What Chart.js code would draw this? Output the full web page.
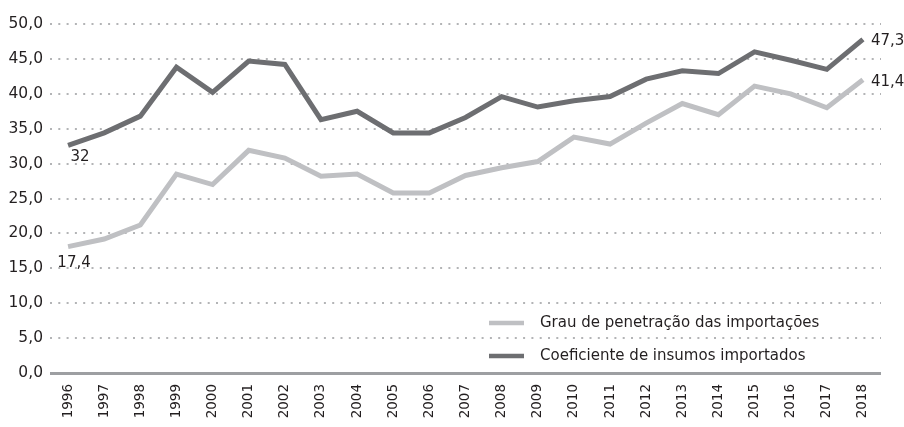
<!DOCTYPE html>
<html>
<head>
<meta charset="utf-8">
<script src="https://cdn.jsdelivr.net/npm/chart.js@4/dist/chart.umd.min.js"></script>
<style>
  html, body { margin: 0; padding: 0; background: #fff; }
</style>
</head>
<body>
<canvas id="grafico" width="904" height="427"></canvas>
<script>
// dados
const anos = ['1996', '1997', '1998', '1999', '2000', '2001', '2002', '2003', '2004', '2005', '2006',
  '2007', '2008', '2009', '2010', '2011', '2012', '2013', '2014', '2015', '2016', '2017', '2018'];
const grauPenetracao = [18.1, 19.2, 21.2, 28.5, 27.0, 31.9, 30.8, 28.2, 28.5, 25.8, 25.8,
  28.3, 29.4, 30.3, 33.8, 32.8, 35.8, 38.6, 37.0, 41.1, 40.0, 38.0, 42.0];
const coefInsumos = [32.6, 34.4, 36.8, 43.8, 40.2, 44.7, 44.2, 36.3, 37.5, 34.4, 34.4,
  36.6, 39.6, 38.1, 39.0, 39.6, 42.1, 43.3, 42.9, 46.0, 44.8, 43.5, 47.8];
const ticksY = [0, 5, 10, 15, 20, 25, 30, 35, 40, 45, 50];
// rótulos de ponto: [índice da série, índice do ano, texto]
const rotulos = [[0, 0, '17,4'], [1, 0, '32'], [0, 22, '41,4'], [1, 22, '47,3']];

const FONTE = "'DejaVu Sans', sans-serif";
const COR_TEXTO = '#231f20';

const rotulosPlugin = {
  id: 'rotulos',
  afterDatasetsDraw(chart) {
    const ctx = chart.ctx;
    ctx.save();
    ctx.font = '15px ' + FONTE;
    ctx.fillStyle = COR_TEXTO;
    ctx.textBaseline = 'middle';
    rotulos.forEach(([s, i, txt]) => {
      const p = chart.getDatasetMeta(s).data[i];
      if (i === 0) {
        ctx.textAlign = 'center';
        const dx = s === 0 ? 6 : 12;
        const dy = s === 0 ? 16 : 12;
        ctx.fillText(txt, p.x + dx, p.y + dy);
      } else {
        ctx.textAlign = 'left';
        ctx.fillText(txt, p.x + 8, p.y + 2);
      }
    });
    ctx.restore();
  }
};

const legendaPlugin = {
  id: 'legenda',
  afterDraw(chart) {
    const ctx = chart.ctx;
    const a = chart.chartArea;
    ctx.save();
    ctx.font = '15px ' + FONTE;
    ctx.fillStyle = COR_TEXTO;
    ctx.textBaseline = 'middle';
    ctx.textAlign = 'left';
    chart.data.datasets.forEach((ds, k) => {
      const y = a.top + 299 + k * 33;
      const x0 = a.left + 439;
      ctx.strokeStyle = ds.borderColor;
      ctx.lineWidth = 4.5;
      ctx.beginPath();
      ctx.moveTo(x0, y);
      ctx.lineTo(x0 + 35, y);
      ctx.stroke();
      ctx.fillText(ds.label, x0 + 51, y);
    });
    ctx.restore();
  }
};

new Chart(document.getElementById('grafico'), {
  type: 'line',
  data: {
    labels: anos,
    datasets: [
      {
        label: 'Grau de penetração das importações',
        data: grauPenetracao,
        borderColor: '#bfc0c3',
        borderWidth: 5,
        pointRadius: 0,
        tension: 0
      },
      {
        label: 'Coeficiente de insumos importados',
        data: coefInsumos,
        borderColor: '#6d6e71',
        borderWidth: 5,
        pointRadius: 0,
        tension: 0
      }
    ]
  },
  options: {
    responsive: false,
    animation: false,
    layout: { padding: { top: 24, right: 23, left: 8, bottom: 0 } },
    plugins: {
      legend: { display: false },
      tooltip: { enabled: false }
    },
    scales: {
      x: {
        offset: true,
        grid: { display: false, drawTicks: false },
        border: { display: false },
        afterFit: (s) => { s.height = 54; },
        ticks: {
          minRotation: 90,
          maxRotation: 90,
          padding: 11,
          color: COR_TEXTO,
          font: { family: FONTE, size: 13.5 }
        }
      },
      y: {
        min: 0,
        max: 50,
        afterFit: (s) => { s.width = 42; },
        afterBuildTicks: (s) => { s.ticks = ticksY.map(v => ({ value: v })); },
        grid: {
          drawTicks: false,
          color: (c) => c.tick && c.tick.value === 0 ? '#9d9fa2' : '#b3b4b6',
          lineWidth: (c) => c.tick && c.tick.value === 0 ? 3 : 2
        },
        border: {
          display: false,
          dash: (c) => c.tick && c.tick.value === 0 ? [] : [2, 6.3]
        },
        ticks: {
          padding: 7,
          color: COR_TEXTO,
          font: { family: FONTE, size: 15.5 },
          callback: (v) => v.toFixed(1).replace('.', ',')
        }
      }
    }
  },
  plugins: [rotulosPlugin, legendaPlugin]
});
</script>
</body>
</html>
